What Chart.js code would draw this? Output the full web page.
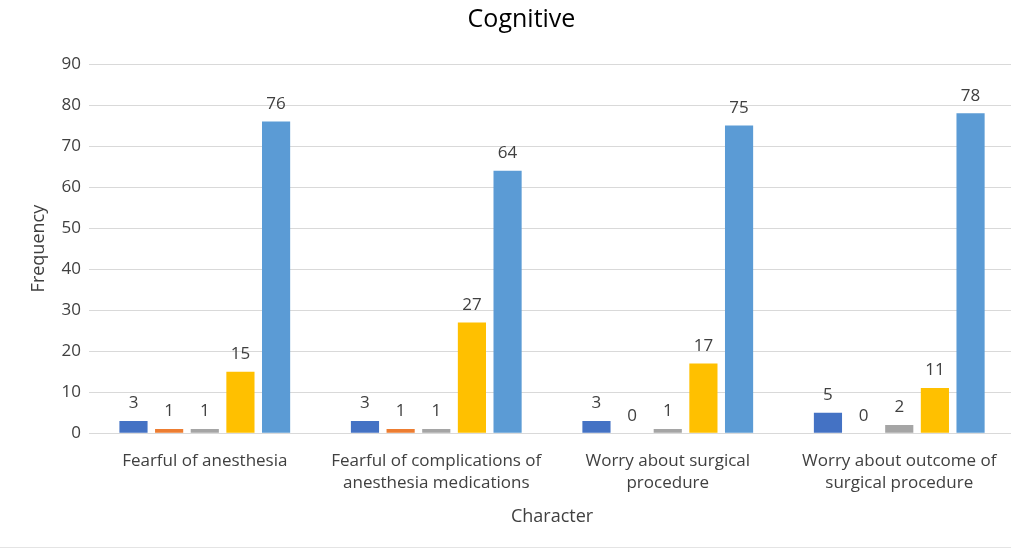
<!DOCTYPE html>
<html>
<head>
<meta charset="utf-8">
<script src="https://cdn.jsdelivr.net/npm/chart.js@4/dist/chart.umd.min.js"></script>
<style>
  html, body { margin: 0; padding: 0; background: #fff; overflow: hidden; }
  #wrap { position: relative; width: 1015px; height: 547px; border-bottom: 1px solid #e4e4e4; }
</style>
</head>
<body>
<div id="wrap"><canvas id="c"></canvas></div>
<script>
// Categories and series values
const categories = [
  ["Fearful of anesthesia"],
  ["Fearful of complications of", "anesthesia medications"],
  ["Worry about surgical", "procedure"],
  ["Worry about outcome of", "surgical procedure"]
];
const series1 = [3, 3, 3, 5];
const series2 = [1, 1, 0, 0];
const series3 = [1, 1, 1, 2];
const series4 = [15, 27, 17, 11];
const series5 = [76, 64, 75, 78];
const seriesColors = ["#4472C4", "#ED7D31", "#A5A5A5", "#FFC000", "#5B9BD5"];
const yTicks = [0, 10, 20, 30, 40, 50, 60, 70, 80, 90];

const FONT = "'Open Sans', 'Noto Sans', sans-serif";

// Value labels drawn above each bar
const valueLabels = {
  id: "valueLabels",
  afterDatasetsDraw(chart) {
    const ctx = chart.ctx;
    ctx.save();
    ctx.font = "17px " + FONT;
    ctx.fillStyle = "#404040";
    ctx.textAlign = "center";
    ctx.textBaseline = "bottom";
    chart.data.datasets.forEach((ds, i) => {
      chart.getDatasetMeta(i).data.forEach((bar, j) => {
        ctx.fillText(String(ds.data[j]), bar.x, bar.y - 9);
      });
    });
    ctx.restore();
  }
};

const datasets = [series1, series2, series3, series4, series5].map((d, i) => ({
  label: "S" + (i + 1),
  data: d,
  backgroundColor: seriesColors[i],
  categoryPercentage: 0.77,
  barPercentage: 0.79
}));

new Chart(document.getElementById("c"), {
  type: "bar",
  data: { labels: categories, datasets },
  plugins: [valueLabels],
  options: {
    responsive: true,
    maintainAspectRatio: false,
    animation: false,
    layout: { padding: { left: 28, right: 0, top: 0, bottom: 19 } },
    plugins: {
      legend: { display: false },
      tooltip: { enabled: false },
      title: {
        display: true,
        text: "Cognitive",
        color: "#000",
        font: { family: FONT, size: 25, weight: "normal" },
        padding: { top: 5, bottom: 29 }
      }
    },
    scales: {
      x: {
        grid: { display: false, drawTicks: false },
        border: { color: "#d9d9d9" },
        ticks: {
          color: "#404040",
          font: { family: FONT, size: 17, lineHeight: 1.3 },
          padding: 17,
          maxRotation: 0,
          autoSkip: false
        },
        title: {
          display: true,
          text: "Character",
          color: "#404040",
          font: { family: FONT, size: 18 },
          padding: { top: -5, bottom: 0 }
        }
      },
      y: {
        min: 0,
        max: 90,
        afterBuildTicks(scale) { scale.ticks = yTicks.map(v => ({ value: v })); },
        grid: { color: "#d9d9d9", drawTicks: false },
        border: { display: false },
        ticks: {
          color: "#404040",
          font: { family: FONT, size: 17 },
          padding: 8
        },
        title: {
          display: true,
          text: "Frequency",
          color: "#404040",
          font: { family: FONT, size: 18 },
          padding: { top: 0, bottom: 4 }
        }
      }
    }
  }
});
</script>
</body>
</html>
